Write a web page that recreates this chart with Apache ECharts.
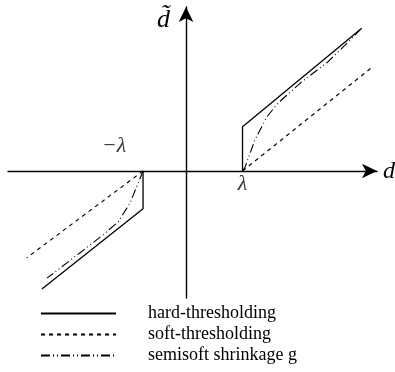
<!DOCTYPE html>
<html><head><meta charset="utf-8">
<script src="https://cdn.jsdelivr.net/npm/echarts@6/dist/echarts.min.js"></script>
<style>html,body{margin:0;padding:0;background:#fff}#c{width:395px;height:372px}</style>
</head><body><div id="c"></div>
<script>
// Data (x in units of lambda, y in threshold units)
var seriesNames = ['hard-thresholding', 'soft-thresholding', 'semisoft shrinkage g'];
var hardPos = [[1, 0], [1, 0.98], [3.11, 3.17]];
var hardNeg = [[-0.76, 0], [-0.76, -0.84], [-2.55, -2.62]];
var softPos = [[1, 0], [3.31, 2.32]];
var softNeg = [[-0.76, 0], [-2.82, -1.93]];
var semiPos = [[1, 0], [1.04, 0.07], [1.22, 0.69], [1.43, 1.2], [1.63, 1.51], [2.05, 1.98], [2.51, 2.42], [2.85, 2.84], [3.08, 3.13]];
var semiNeg = [[-0.76, 0], [-0.78, -0.02], [-0.99, -0.71], [-1.2, -1.13], [-1.47, -1.42], [-1.88, -1.82], [-2.46, -2.38]];
var lambdaMarks = [[1, 0, 'λ'], [-0.76, 0, '−λ']];
var xRange = [-3.15, 3.38];
var yRange = [-2.82, 3.64];

var serif = '"Liberation Serif", "Times New Roman", serif';
function join(a, b) { return a.concat([['-', '-']]).concat(b); }

var chart = echarts.init(document.getElementById('c'), null, {renderer: 'canvas'});
var axisCommon = {
  type: 'value',
  axisLine: {onZero: true, symbol: ['none', 'arrow'], symbolSize: [11, 15], lineStyle: {color: '#000', width: 1.4}},
  axisTick: {show: false}, axisLabel: {show: false}, splitLine: {show: false}
};
var labelStyles = [
  {position: 'bottom', distance: 2, offset: [0, 0]},
  {position: 'top', distance: 5, offset: [-29, -9]}
];
var labelData = lambdaMarks.map(function (m, i) {
  return {value: m, label: labelStyles[i]};
});
chart.setOption({
  animation: false,
  grid: {left: 8, right: 18, top: 7, bottom: 74},
  xAxis: Object.assign({}, axisCommon, {min: xRange[0], max: xRange[1]}),
  yAxis: Object.assign({}, axisCommon, {min: yRange[0], max: yRange[1]}),
  legend: {
    data: seriesNames, orient: 'vertical', left: 40, top: 304, height: 68,
    itemWidth: 75, itemHeight: 10, itemGap: 2, padding: 0,
    itemStyle: {opacity: 0},
    textStyle: {fontFamily: serif, fontSize: 18, lineHeight: 19, color: '#000', padding: [0, 0, 0, 27]}
  },
  series: [
    {name: seriesNames[0], type: 'line', symbol: 'none', data: join(hardPos, hardNeg),
     lineStyle: {color: '#000', width: 1.3, type: 'solid'}},
    {name: seriesNames[1], type: 'line', symbol: 'none', data: join(softPos, softNeg),
     lineStyle: {color: '#000', width: 1.1, type: [4, 4]}},
    {name: seriesNames[2], type: 'line', symbol: 'none', data: join(semiPos, semiNeg),
     lineStyle: {color: '#000', width: 1.1, type: [9, 3, 1, 3, 1, 3]}},
    {name: 'labels', type: 'scatter', symbolSize: 0, data: labelData, silent: true,
     label: {show: true, formatter: function (p) { return p.value[2]; },
       fontFamily: serif, fontStyle: 'italic', fontSize: 22, color: '#000'}}
  ],
  graphic: [
    {type: 'text', left: 383, top: 160, style: {text: 'd', font: 'italic 24px ' + serif, fill: '#000'}},
    {type: 'text', left: 157, top: 7, style: {text: 'd\u0303', font: 'italic 26px ' + serif, fill: '#000'}}
  ]
});
</script></body></html>
